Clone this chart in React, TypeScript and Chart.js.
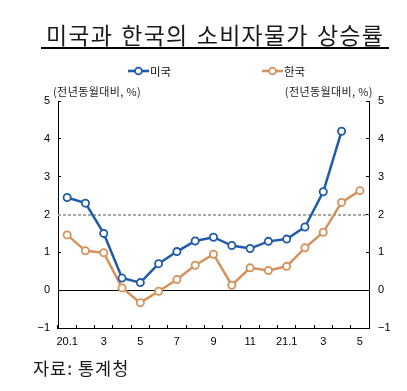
import React, { useEffect, useRef } from 'react';
import { Chart, registerables } from 'chart.js';

Chart.register(...registerables);

// ---- data ----
const categories = ['20.1', '2', '3', '4', '5', '6', '7', '8', '9', '10', '11', '12', '21.1', '2', '3', '4', '5'];
const usCpi: (number | null)[] = [2.45, 2.3, 1.5, 0.32, 0.2, 0.7, 1.02, 1.3, 1.4, 1.18, 1.1, 1.29, 1.35, 1.67, 2.6, 4.2, null];
const krCpi: (number | null)[] = [1.46, 1.04, 0.99, 0.06, -0.33, -0.03, 0.28, 0.66, 0.95, 0.13, 0.59, 0.52, 0.63, 1.12, 1.53, 2.32, 2.63];
const yMin = -1;
const yMax = 5;
const targetLine = 2;

const BLUE = '#1f5ba8';
const ORANGE = '#d4925c';
const TICK_FONT = { family: '"Liberation Sans", Arial, sans-serif', size: 11 };
const KR_FONT = '"Noto Sans CJK KR", sans-serif';

const refLines = {
  id: 'refLines',
  beforeDatasetsDraw(chart: any) {
    const { ctx, chartArea, scales } = chart;
    const y = scales.y;
    ctx.save();
    const yT = Math.round(y.getPixelForValue(targetLine));
    ctx.strokeStyle = '#a8a8a8';
    ctx.lineWidth = 2;
    ctx.setLineDash([3, 2]);
    ctx.beginPath();
    ctx.moveTo(chartArea.left, yT);
    ctx.lineTo(chartArea.right, yT);
    ctx.stroke();
    const y0 = Math.round(y.getPixelForValue(0)) + 0.5;
    ctx.setLineDash([]);
    ctx.strokeStyle = '#000';
    ctx.lineWidth = 1.2;
    ctx.beginPath();
    ctx.moveTo(chartArea.left, y0);
    ctx.lineTo(chartArea.right, y0);
    ctx.stroke();
    ctx.restore();
  },
};

const fmtY = (v: any) => (Number(v) < 0 ? '\u2212' + Math.abs(Number(v)) : String(v));

function LegendMark({ color }: { color: string }) {
  return (
    <svg width={22} height={10} style={{ display: 'block' }}>
      <line x1={0} y1={5} x2={21} y2={5} stroke={color} strokeWidth={2.6} />
      <circle cx={10.5} cy={5} r={3.4} fill="#fff" stroke={color} strokeWidth={1.8} />
    </svg>
  );
}

export default function App() {
  const canvasRef = useRef<HTMLCanvasElement | null>(null);

  useEffect(() => {
    if (!canvasRef.current) return;
    const yCommon = (position: 'left' | 'right', padding: number, width: number) => ({
      type: 'linear' as const,
      position,
      min: yMin,
      max: yMax,
      ticks: {
        stepSize: 1,
        padding,
        color: '#000',
        font: TICK_FONT,
        callback: fmtY,
      },
      grid: {
        drawOnChartArea: false,
        drawTicks: true,
        tickLength: -3,
        tickColor: '#000',
        tickWidth: 1,
      },
      border: { display: true, color: '#000', width: 1 },
      afterFit: (s: any) => {
        s.width = width;
      },
    });

    const chart = new Chart(canvasRef.current, {
      type: 'line',
      data: {
        labels: categories,
        datasets: [
          {
            label: '미국',
            data: usCpi,
            borderColor: BLUE,
            backgroundColor: '#fff',
            borderWidth: 2.5,
            pointRadius: 3.6,
            pointBorderWidth: 1.8,
            pointBackgroundColor: '#fff',
            pointBorderColor: BLUE,
            tension: 0,
            yAxisID: 'y',
          },
          {
            label: '한국',
            data: krCpi,
            borderColor: ORANGE,
            backgroundColor: '#fff',
            borderWidth: 2.5,
            pointRadius: 3.6,
            pointBorderWidth: 1.8,
            pointBackgroundColor: '#fff',
            pointBorderColor: ORANGE,
            tension: 0,
            yAxisID: 'y',
          },
        ],
      },
      options: {
        responsive: false,
        animation: false,
        devicePixelRatio: 1,
        layout: { padding: { top: 101, left: 0, right: 0, bottom: 0 } },
        plugins: { legend: { display: false }, tooltip: { enabled: false }, title: { display: false } },
        scales: {
          x: {
            type: 'category',
            offset: true,
            grid: {
              offset: true,
              drawOnChartArea: false,
              drawTicks: true,
              tickLength: -3,
              tickColor: '#000',
              tickWidth: 1,
            },
            border: { display: true, color: '#000', width: 1 },
            ticks: {
              autoSkip: false,
              maxRotation: 0,
              minRotation: 0,
              padding: 10,
              color: '#000',
              font: TICK_FONT,
              callback: (_v: any, i: number) => (i % 2 === 0 ? categories[i] : ''),
            },
            afterFit: (s: any) => {
              s.height = 63;
            },
          },
          y: yCommon('left', 11, 58),
          y2: yCommon('right', 12, 38),
        },
      },
      plugins: [refLines],
    } as any);
    return () => chart.destroy();
  }, []);

  const axisTitle: React.CSSProperties = {
    position: 'absolute',
    top: 84,
    fontFamily: KR_FONT,
    fontSize: 11,
    lineHeight: '14px',
    letterSpacing: 0.4,
    color: '#222',
    whiteSpace: 'nowrap',
  };
  const legendItem: React.CSSProperties = {
    position: 'absolute',
    top: 63,
    display: 'flex',
    alignItems: 'center',
    height: 16,
    fontFamily: KR_FONT,
    fontSize: 11.5,
    color: '#111',
    whiteSpace: 'nowrap',
  };

  return (
    <div
      style={{
        position: 'fixed',
        left: 0,
        top: 0,
        width: 407,
        height: 391,
        background: '#fff',
        overflow: 'hidden',
      }}
    >
      <canvas
        ref={canvasRef}
        width={407}
        height={391}
        style={{ position: 'absolute', left: 0, top: 0, width: 407, height: 391 }}
      />
      <div
        style={{
          position: 'absolute',
          left: 41,
          top: 21,
          width: 348,
          textAlign: 'center',
          fontFamily: KR_FONT,
          fontSize: 23,
          lineHeight: '26px',
          wordSpacing: 2,
          letterSpacing: 1.2,
          color: '#1a1a1a',
          whiteSpace: 'nowrap',
        }}
      >
        미국과 한국의 소비자물가 상승률
      </div>
      <div style={{ position: 'absolute', left: 41, top: 47, width: 348, height: 1.5, background: '#000' }} />
      <div style={{ ...legendItem, left: 128 }}>
        <LegendMark color={BLUE} />
        <span>미국</span>
      </div>
      <div style={{ ...legendItem, left: 262 }}>
        <LegendMark color={ORANGE} />
        <span>한국</span>
      </div>
      <div style={{ ...axisTitle, left: 53 }}>(전년동월대비, %)</div>
      <div style={{ ...axisTitle, right: 407 - 373 }}>(전년동월대비, %)</div>
      <div
        style={{
          position: 'absolute',
          left: 33,
          top: 357,
          fontFamily: KR_FONT,
          fontSize: 17.5,
          lineHeight: '22px',
          letterSpacing: 1,
          color: '#1a1a1a',
          whiteSpace: 'nowrap',
        }}
      >
        자료: 통계청
      </div>
    </div>
  );
}
